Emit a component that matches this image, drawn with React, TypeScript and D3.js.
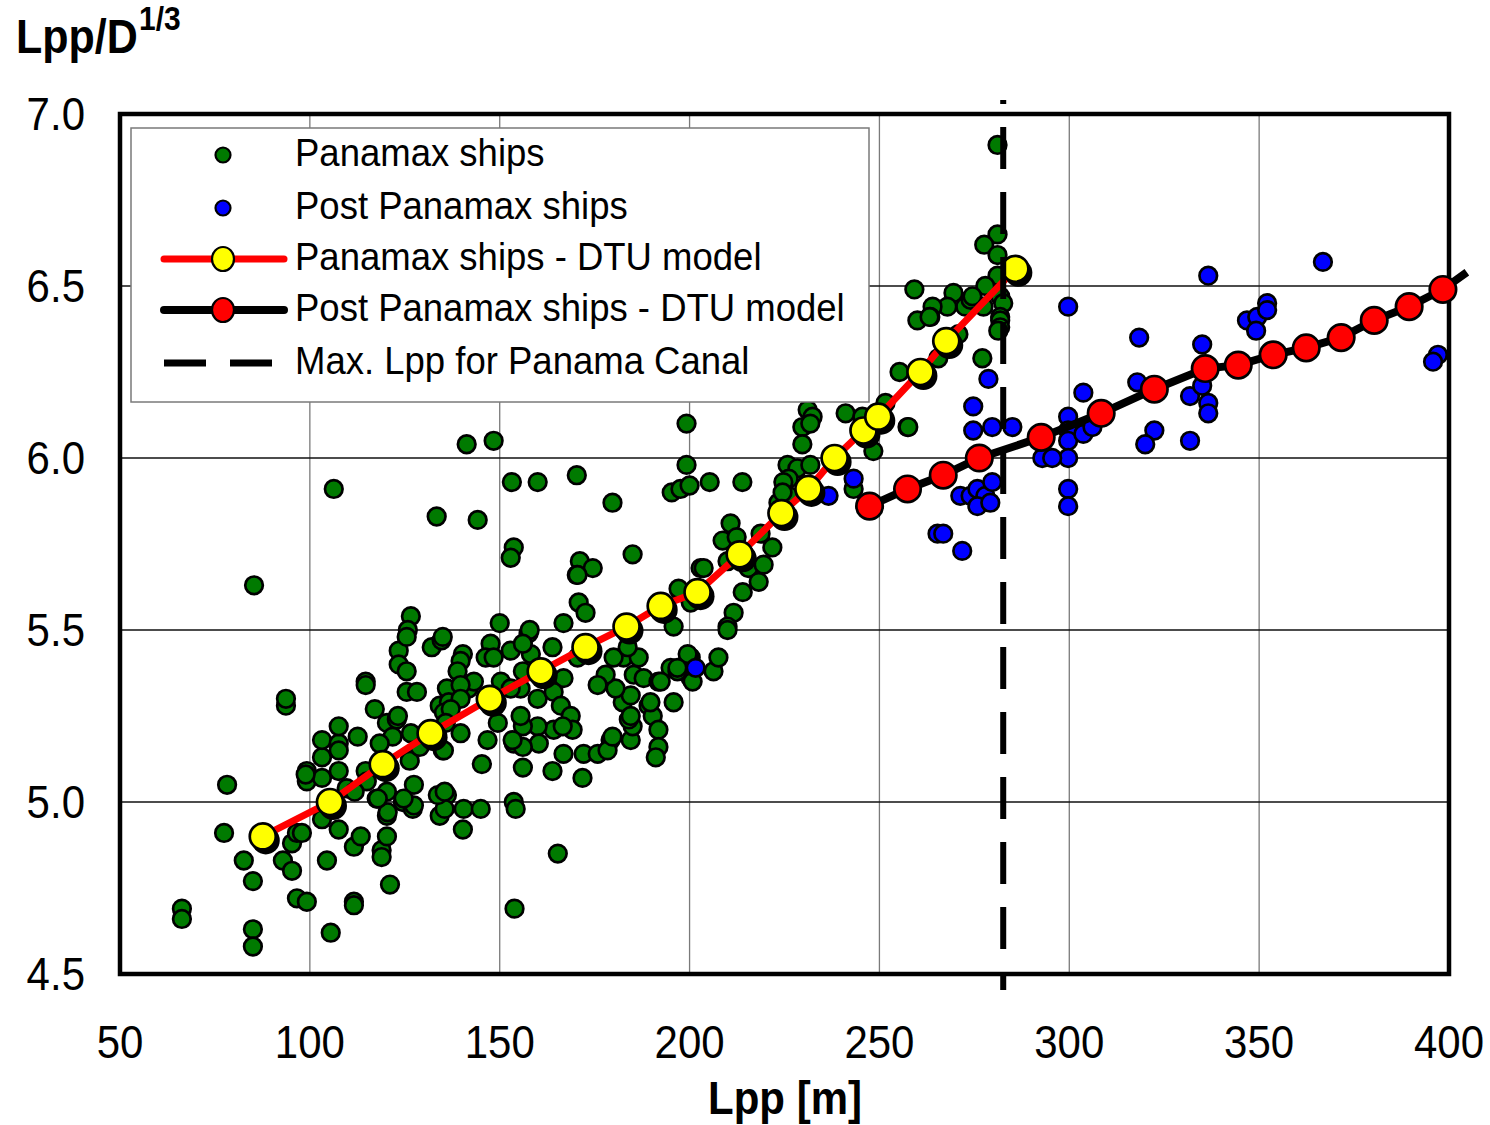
import React from 'react';
import * as d3 from 'd3';

type Pt = [number, number];

const panamaxShips: Pt[] = [
  [66.3,4.69],[66.3,4.66],[77.4,4.91],[78.2,5.05],[82.6,4.83],[85.0,4.77],[85.0,4.63],[85.0,4.58],[85.3,5.63],[93.7,5.28],[93.7,5.30],[92.9,4.83],[95.3,4.80],[95.3,4.88],[96.6,4.91],[97.9,4.91],[96.6,4.72],[99.2,4.71],[105.5,4.62],[104.5,4.83],[103.2,4.95],[107.6,4.92],[111.6,4.71],[111.6,4.70],[121.1,4.76],[111.6,4.87],[113.4,4.90],[118.9,4.86],[118.9,4.84],[120.3,4.90],[120.3,4.96],[120.3,5.03],[117.6,5.01],[124.5,5.00],[127.1,4.98],[127.4,5.05],[114.7,5.09],[115.0,5.06],[99.2,5.09],[99.2,5.06],[103.2,5.07],[107.6,5.09],[109.7,5.04],[111.8,5.03],[103.2,5.13],[103.2,5.18],[107.6,5.17],[107.6,5.22],[112.6,5.19],[107.6,5.15],[117.1,5.27],[120.3,5.23],[122.9,5.24],[121.8,5.19],[118.4,5.17],[114.7,5.35],[114.7,5.34],[123.4,5.44],[123.4,5.40],[125.5,5.38],[132.1,5.45],[134.7,5.47],[125.5,5.32],[128.2,5.32],[126.3,5.12],[128.9,5.16],[135.0,5.15],[136.1,5.33],[134.2,5.28],[136.1,5.02],[134.2,4.96],[135.5,4.98],[126.6,5.54],[125.8,5.50],[125.5,5.48],[126.6,5.20],[127.4,4.99],[120.5,4.97],[117.9,5.01],[124.7,5.01],[135.3,5.15],[139.7,5.20],[133.7,5.02],[140.5,4.98],[145.0,4.98],[140.3,4.92],[153.7,5.00],[154.2,4.98],[153.9,4.69],[165.3,4.85],[106.3,5.91],[133.4,5.83],[144.2,5.82],[141.3,6.04],[148.4,6.05],[153.2,5.93],[160.0,5.93],[170.3,5.95],[179.7,5.87],[199.2,6.10],[199.2,5.98],[195.3,5.90],[197.6,5.91],[200.0,5.92],[205.3,5.93],[213.9,5.93],[153.7,5.74],[152.9,5.71],[171.1,5.70],[174.5,5.68],[170.3,5.66],[185.0,5.72],
  [135.0,5.48],[140.3,5.43],[139.7,5.41],[138.9,5.38],[136.6,5.29],[135.3,5.26],[141.8,5.33],[143.2,5.35],[147.6,5.46],[146.3,5.42],[148.4,5.42],[150.3,5.35],[152.9,5.44],[157.6,5.49],[157.9,5.50],[155.5,5.33],[158.2,5.43],[163.9,5.45],[166.8,5.52],[170.8,5.58],[172.6,5.55],[166.8,5.36],[170.5,5.42],[160.0,5.30],[164.2,5.32],[166.1,5.28],[168.7,5.25],[169.2,5.21],[164.2,5.21],[160.0,5.22],[160.3,5.17],[156.1,5.22],[153.7,5.17],[155.5,5.25],[146.8,5.18],[145.3,5.11],[156.1,5.10],[163.9,5.09],[171.8,5.07],[166.8,5.14],[172.1,5.14],[175.8,5.14],[179.2,5.18],[184.5,5.18],[185.0,5.22],[184.0,5.24],[182.4,5.29],[184.5,5.31],[180.5,5.33],[177.9,5.37],[175.8,5.34],[185.3,5.37],[187.9,5.36],[189.2,5.28],[190.3,5.25],[191.8,5.21],[191.8,5.16],[191.1,5.13],[195.8,5.29],[191.8,5.35],[182.6,5.42],[186.6,5.42],[180.0,5.42],[183.7,5.45],[195.8,5.51],[197.6,5.61],[200.3,5.42],[195.0,5.39],[200.3,5.36],[202.9,5.68],[98.9,5.08],[123.2,5.25],[135.5,5.03],[150.0,5.52],[139.7,5.34],[139.7,5.30],[137.1,5.27],[135.8,5.23],[149.5,5.23],[152.9,5.33],[156.1,5.38],[156.1,5.46],[170.5,5.66],[166.6,5.22],[156.1,5.16],[153.4,5.18],[178.4,5.15],[179.7,5.19],[184.5,5.25],[189.7,5.29],[196.8,5.38],[199.7,5.42],
  [229.7,6.09],[231.1,6.14],[232.4,6.12],[231.8,6.10],[229.7,6.04],[225.8,5.98],[228.4,5.97],[231.8,5.98],[226.1,5.94],[224.7,5.93],[226.1,5.89],[223.4,5.87],[224.5,5.90],[241.1,6.13],[245.5,6.12],[251.6,6.16],[257.4,6.09],[248.4,6.02],[243.2,5.91],[210.8,5.81],[208.7,5.76],[212.4,5.77],[218.7,5.78],[221.8,5.74],[210.0,5.70],[215.5,5.68],[219.5,5.69],[218.2,5.64],[214.0,5.61],[211.6,5.55],[210.0,5.51],[210.0,5.50],[203.7,5.68],[197.1,5.62],[200.3,5.58],[192.4,5.35],[199.5,5.43],[196.8,5.39],[200.8,5.35],[206.3,5.38],[207.6,5.42],
  [281.1,6.91],[281.1,6.65],[277.6,6.62],[281.1,6.59],[281.1,6.53],[277.9,6.50],[281.8,6.47],[282.6,6.45],[281.8,6.41],[281.8,6.40],[281.8,6.38],[277.4,6.44],[272.6,6.44],[274.0,6.46],[269.5,6.48],[267.9,6.44],[264.0,6.44],[263.4,6.41],[260.0,6.40],[259.2,6.49],[270.8,6.36],[277.1,6.29],[265.5,6.29],[255.3,6.25],[257.6,6.09],[263.2,6.41],[274.5,6.47],[281.3,6.37]
];

const postPanamaxShips: Pt[] = [
  [201.6,5.39],[236.6,5.89],[243.2,5.94],[265.3,5.78],[266.8,5.78],[271.8,5.73],[299.7,6.44],[278.7,6.23],[274.7,6.15],[274.7,6.08],[279.7,6.09],[285.0,6.09],[303.7,6.19],[299.7,6.12],[299.7,6.08],[299.7,6.05],[299.7,6.00],[299.7,5.91],[299.7,5.86],[292.9,6.00],[295.5,6.00],[303.7,6.07],[306.1,6.09],[318.4,6.35],[336.6,6.53],[366.8,6.57],[317.9,6.22],[322.4,6.08],[320.0,6.04],[331.8,6.05],[331.8,6.18],[335.0,6.33],[335.0,6.21],[336.6,6.16],[336.6,6.13],[346.8,6.40],[349.5,6.41],[352.1,6.45],[352.1,6.43],[349.2,6.37],[397.1,6.30],[395.8,6.28],[271.3,5.89],[274.0,5.89],[275.8,5.91],[277.9,5.89],[275.8,5.86],[279.2,5.87],[279.7,5.93]
];

const panamaxModel: Pt[] = [
  [87.6,4.90],[105.3,5.00],[119.2,5.11],[131.8,5.20],[147.4,5.30],[160.8,5.38],[172.6,5.45],[183.4,5.51],[192.4,5.57],[202.1,5.61],[213.2,5.72],[224.2,5.84],[231.3,5.91],[238.2,6.00],[245.8,6.08],[249.7,6.12],[260.8,6.25],[267.6,6.34],[285.8,6.55]
];

const postPanamaxModel: Pt[] = [
  [247.4,5.86],[257.4,5.91],[266.8,5.95],[276.3,6.00],[292.6,6.06],[308.4,6.13],[322.4,6.20],[335.8,6.26],[344.5,6.27],[353.7,6.30],[362.4,6.32],[371.6,6.35],[380.3,6.40],[389.5,6.44],[398.4,6.49],[404.7,6.54]
];

const panamaCanalMaxLpp = 282.6;
const xTicks = [50, 100, 150, 200, 250, 300, 350, 400];
const yTicks = [4.5, 5.0, 5.5, 6.0, 6.5, 7.0];
const legendLabels = [
  'Panamax ships',
  'Post Panamax ships',
  'Panamax ships - DTU model',
  'Post Panamax ships - DTU model',
  'Max. Lpp for Panama Canal',
];

const FONT = "'Liberation Sans', Arial, Helvetica, sans-serif";

export default function App() {
  const W = 1490, H = 1125;
  const x = d3.scaleLinear().domain([50, 400]).range([120, 1449]);
  const y = d3.scaleLinear().domain([4.5, 7.0]).range([974, 114]);
  const line = d3.line<Pt>().x(d => x(d[0])).y(d => y(d[1]));
  const [x0, x1] = x.range();
  const [y0, y1] = y.range();
  const inDomain = (d: Pt) => d[0] >= 50 && d[0] <= 400;

  const legendRows = [155, 208, 259, 310, 363];

  return (
    <svg width={W} height={H} style={{ position: 'absolute', left: 0, top: 0, background: '#fff' }} fontFamily={FONT}>
      <rect x={0} y={0} width={W} height={H} fill="#fff" />
      {xTicks.filter(t => t > 50 && t < 400).map(t => (
        <line key={'gx' + t} x1={x(t)} x2={x(t)} y1={y1} y2={y0} stroke="#7a7a7a" strokeWidth={1.3} />
      ))}
      {yTicks.filter(t => t > 4.5 && t < 7).map(t => (
        <line key={'gy' + t} x1={x0} x2={x1} y1={y(t)} y2={y(t)} stroke="#111" strokeWidth={1.3} />
      ))}
      <rect x={x0} y={y1} width={x1 - x0} height={y0 - y1} fill="none" stroke="#000" strokeWidth={4.5} />

      {yTicks.map(t => (
        <text key={'yl' + t} transform={`translate(85,${y(t) + 16}) scale(1,1.12)`} textAnchor="end" fontSize={42} fill="#000">
          {t.toFixed(1)}
        </text>
      ))}
      {xTicks.map(t => (
        <text key={'xl' + t} transform={`translate(${x(t)},${1058}) scale(1,1.12)`} textAnchor="middle" fontSize={42} fill="#000">
          {t}
        </text>
      ))}
      <text transform="translate(785,1114) scale(1,1.1)" textAnchor="middle" fontSize={42} fontWeight="bold">Lpp [m]</text>
      <text transform="translate(16,53) scale(1,1.12)" fontSize={43} fontWeight="bold">Lpp/D</text>
      <text transform="translate(139,30) scale(1,1.12)" fontSize={30} fontWeight="bold">1/3</text>

      {panamaxShips.map((d, i) => (
        <circle key={'g' + i} cx={x(d[0])} cy={y(d[1])} r={8.8} fill="#007a00" stroke="#000" strokeWidth={2.7} />
      ))}
      {postPanamaxShips.map((d, i) => (
        <circle key={'b' + i} cx={x(d[0])} cy={y(d[1])} r={8.8} fill="#0000ff" stroke="#000" strokeWidth={2.7} />
      ))}

      <path d={line(postPanamaxModel) || ''} fill="none" stroke="#000" strokeWidth={8} />
      {postPanamaxModel.filter(inDomain).map((d, i) => (
        <circle key={'r' + i} cx={x(d[0])} cy={y(d[1])} r={13.2} fill="#ff0000" stroke="#000" strokeWidth={2.7} />
      ))}

      <path d={line(panamaxModel) || ''} fill="none" stroke="#ff0000" strokeWidth={7} />
      {panamaxModel.map((d, i) => (
        <circle key={'ys' + i} cx={x(d[0]) + 3} cy={y(d[1]) + 4} r={14} fill="#000" />
      ))}
      {panamaxModel.map((d, i) => (
        <circle key={'y' + i} cx={x(d[0])} cy={y(d[1])} r={13} fill="#ffff00" stroke="#000" strokeWidth={2.7} />
      ))}

      <rect x={131} y={128} width={738} height={274} fill="#fff" stroke="#7a7a7a" strokeWidth={1.5} />
      <circle cx={223} cy={legendRows[0]} r={7.5} fill="#007a00" stroke="#000" strokeWidth={2.2} />
      <circle cx={223} cy={legendRows[1]} r={7.5} fill="#0000ff" stroke="#000" strokeWidth={2.2} />
      <line x1={164} x2={284} y1={legendRows[2]} y2={legendRows[2]} stroke="#ff0000" strokeWidth={7} strokeLinecap="round" />
      <ellipse cx={223} cy={legendRows[2]} rx={11} ry={12} fill="#ffff00" stroke="#000" strokeWidth={2.2} />
      <line x1={164} x2={284} y1={legendRows[3]} y2={legendRows[3]} stroke="#000" strokeWidth={8} strokeLinecap="round" />
      <ellipse cx={223} cy={legendRows[3]} rx={11} ry={12} fill="#ff0000" stroke="#000" strokeWidth={2.2} />
      <line x1={164} x2={272} y1={legendRows[4]} y2={legendRows[4]} stroke="#000" strokeWidth={7} strokeDasharray="42 24" />
      {legendLabels.map((s, i) => (
        <text key={'lt' + i} transform={`translate(295,${legendRows[i] + 11}) scale(1,1.06)`} fontSize={36.5} fill="#000">
          {s}
        </text>
      ))}

      <line x1={x(panamaCanalMaxLpp)} x2={x(panamaCanalMaxLpp)} y1={y1 - 14} y2={y0 + 16}
        stroke="#000" strokeWidth={6} strokeDasharray="42 23" strokeDashoffset={38} />
    </svg>
  );
}
